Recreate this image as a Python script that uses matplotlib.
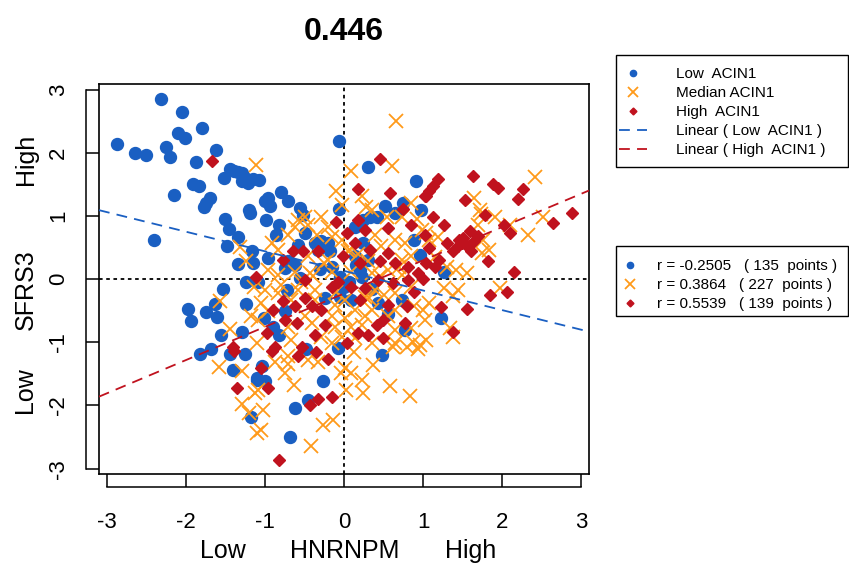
import numpy as np
import matplotlib
matplotlib.use('Agg')
from matplotlib import pyplot as plt
from matplotlib.lines import Line2D
from matplotlib.patches import Rectangle

plt.rcParams['font.family'] = ['Liberation Sans', 'DejaVu Sans']

# HNRNPM (x) vs SFRS3 (y), split by ACIN1 level
low_x = [-2.32, -2.05, -1.80, -2.10, -2.01, -2.88, -2.65, -2.51, -2.26, -2.20, -1.62, -1.88,
         -1.52, -1.40, -1.45, -1.29, -1.35, -1.22, -1.15, -1.92, -1.84, -2.15, -1.70, -1.75,
         -1.78, -1.20, -1.30, -1.25, -1.19, -1.51, -1.46, -1.34, -1.48, -1.17, -1.35, -1.16,
         -1.24, -1.54, -1.98, -1.64, -1.75, -1.61, -1.94, -1.24, -1.30, -1.56, -1.69, -2.41,
         -1.83, -1.44, -1.26, -1.41, -1.11, -1.18, -0.48, -0.08, 0.48, -1.04, -1.10, -1.00,
         -0.27, -0.46, -0.62, -0.69, -0.07, 0.30, 0.91, 0.52, 0.75, 0.97, -0.07, -1.08,
         -0.96, -0.80, -0.71, -0.94, -0.56, -1.00, -0.52, 1.22, 1.27, 0.96, -0.99, -0.83,
         -0.86, -0.50, 0.14, 0.24, 0.33, 0.41, 0.64, 0.89, -0.58, -0.37, -0.29, -0.20,
         -0.33, -0.18, -0.96, -0.71, -0.75, -0.62, -0.31, 0.14, 0.24, 0.20, 0.22, -0.05,
         -0.56, -0.73, -0.24, -0.05, 0.09, 0.43, 0.73, -1.02, -0.75, -0.90, -0.83, -1.09,
         0.00, 0.06, 0.30, 0.35, 0.15, -0.15, 0.56, 0.77]
low_y = [2.86, 2.64, 2.39, 2.31, 2.24, 2.14, 2.00, 1.97, 2.09, 1.94, 2.04, 1.85,
         1.60, 1.72, 1.74, 1.68, 1.69, 1.52, 1.58, 1.51, 1.47, 1.33, 1.29, 1.21,
         1.14, 1.09, 1.55, 1.60, 1.05, 0.95, 0.80, 0.66, 0.52, 0.45, 0.24, 0.26,
         -0.05, -0.16, -0.47, -0.39, -0.52, -0.60, -0.66, -0.40, -0.83, -0.89, -1.11, 0.62,
         -1.18, -1.18, -1.18, -1.44, -1.59, -2.18, -1.10, -1.09, -1.20, -1.38, -1.57, -1.62,
         -1.61, -1.91, -2.04, -2.50, 2.18, 1.77, 1.55, 1.16, 1.21, 1.10, 1.11, 1.57,
         1.29, 1.38, 1.23, 1.16, 1.13, 1.24, 1.02, -0.62, 0.12, 0.38, 0.94, 0.86,
         0.70, 0.73, 0.83, 0.94, 0.98, 0.99, 1.05, 0.62, 0.54, 0.57, 0.60, 0.57,
         0.46, 0.44, 0.33, 0.28, 0.17, 0.23, 0.16, 0.36, 0.57, 0.15, 0.04, 0.04,
         0.02, -0.17, -0.30, -0.28, -0.33, -0.38, -0.33, -0.62, -0.51, -0.75, -0.88, -0.04,
         -0.12, -0.05, 0.30, -0.15, 0.22, 0.20, -0.55, -0.81]

med_x = [-1.12, -1.32, -1.24, -1.14, -1.57, -1.18, -1.44, -1.59, -1.29, -1.29, -1.13, -1.11,
         -1.20, -0.88, -0.71, -0.46, -0.33, -0.75, -0.63, 0.01, -0.04, 0.09, 0.22, 0.02,
         0.24, 0.37, 0.58, 0.83, 0.62, 0.80, 0.94, -1.09, -1.03, -0.27, -0.14, -1.05,
         -0.42, 0.66, 0.61, 0.08, -0.11, 0.23, -0.03, 0.27, 0.85, 0.35, 2.41, 1.65,
         1.72, 2.52, 1.91, 1.73, 2.33, 1.70, 1.76, 1.74, 1.84, 1.97, 1.34, 1.44,
         1.38, 1.27, 1.42, 1.30, 1.08, 1.19, 1.04, 1.00, 1.08, 1.02, 1.04, 1.38,
         0.96, -0.50, -0.71, -0.62, -0.46, -0.20, -0.35, -0.16, -0.03, 0.54, 0.73, 0.39,
         0.64, 0.77, 0.47, -0.84, -0.46, -0.20, 0.07, 0.30, 0.73, 0.85, -0.96, -0.84,
         -0.62, -0.43, -0.16, 0.09, 0.35, 0.56, 0.73, -1.00, -0.84, -0.58, -0.37, -0.10,
         0.26, 0.39, 0.64, 0.85, -1.05, -0.67, -0.37, -0.12, 0.01, 0.14, 0.35, 0.64,
         0.89, -0.96, -0.50, -0.16, 0.01, 0.26, 0.56, -0.71, -0.41, -0.12, 0.09, 0.22,
         0.64, 0.85, -1.09, -0.29, -0.03, 0.14, 0.35, -0.67, -1.11, -0.16, 0.64, 0.87,
         -0.58, -0.92, -0.29, 0.98, -0.71, 0.12, 0.45, -0.25, 0.50, -0.55, 0.18, 0.70,
         -0.80, 0.05, 0.32, -0.40, 0.92, 1.15, 1.55, 2.10]
med_y = [1.81, 0.51, 0.29, -0.12, -0.34, -0.58, -0.79, -1.39, -1.45, -1.97, -1.81, -2.44,
         -2.12, -1.31, -1.34, -1.28, -1.31, -1.49, -1.68, -1.41, -1.49, -1.49, -1.60, -1.76,
         -1.81, -1.36, -1.69, -1.85, -1.07, -1.08, -1.10, -1.76, -2.07, -2.31, -2.23, -2.39,
         -2.64, 2.50, 1.79, 1.72, 1.39, 1.31, 1.18, 1.15, 1.21, 1.10, 1.62, 1.29,
         1.10, 0.99, 0.99, 1.03, 0.70, 0.86, 0.62, 0.41, 0.46, -0.14, -0.78, -0.17,
         -0.27, -0.14, 0.15, 0.20, 0.62, 0.67, 0.73, -0.49, -0.38, -0.64, -0.96, -0.91,
         -1.04, 0.99, 0.70, 0.83, 0.86, 0.83, 0.70, 0.67, 0.62, 0.99, 0.99, 0.70,
         0.62, 0.57, 0.52, 0.46, 0.36, 0.31, 0.46, 0.28, 0.31, 0.36, 0.15, 0.07,
         0.12, 0.09, 0.12, 0.12, 0.09, 0.15, 0.07, -0.17, -0.22, -0.17, -0.17, -0.20,
         -0.28, -0.17, -0.22, -0.12, -0.38, -0.33, -0.33, -0.41, -0.33, -0.49, -0.49, -0.49,
         -0.43, -0.51, -0.59, -0.59, -0.62, -0.59, -0.59, -0.75, -0.70, -0.75, -0.75, -0.72,
         -0.80, -0.78, -0.64, -0.91, -0.91, -0.93, -1.01, -0.96, -1.01, -1.01, -1.01, -0.99,
         0.94, 0.57, 0.99, 0.78, -1.22, -1.15, 0.05, 0.25, -0.25, -0.05, 0.40, 0.20,
         -0.10, 0.45, -0.30, 0.05, 0.95, 0.35, 0.10, 0.85]

high_x = [-1.67, -1.12, -1.41, -1.39, -1.36, -0.92, -0.36, -0.58, -0.20, -1.05, -0.96, -0.33,
          -0.15, -0.43, -0.83, 0.45, 0.17, 0.58, 0.75, 1.02, 1.63, 1.19, 1.13, 1.08,
          1.04, 1.89, 1.95, 2.27, 2.20, 1.53, 2.88, 2.65, 1.13, 1.27, 1.78, 1.59,
          2.02, 2.10, 1.51, 1.44, 1.38, 1.55, 1.61, 1.49, 1.82, 2.15, 1.85, 2.06,
          1.56, 1.23, 1.38, 1.15, 1.04, 1.02, 1.30, 1.08, -0.10, 0.18, 0.03, 0.26,
          0.56, 0.85, -0.65, -0.52, -0.33, 0.14, 0.33, 0.56, -0.01, -0.77, 0.20, 0.45,
          0.64, 0.81, 0.94, -0.50, -0.16, -0.08, 0.09, 0.26, 0.43, 0.62, 0.81, 0.89,
          -0.50, -0.41, -0.29, -0.77, -0.90, -0.62, -0.75, -0.60, -0.24, 0.20, 0.56, 0.79,
          0.41, 0.49, 0.77, -0.98, -0.37, 0.18, 0.30, 0.49, 0.03, -0.88, -0.54, 1.65,
          1.70, 1.45, 1.20, 1.00]
high_y = [1.87, 0.04, -1.07, -1.13, -1.72, -1.13, -1.16, -1.22, -1.26, -1.40, -1.73, -1.90,
          -1.87, -2.00, -2.86, 1.90, 1.42, 1.37, 1.11, 1.32, 1.64, 1.59, 1.47, 1.39,
          1.31, 1.50, 1.44, 1.43, 1.27, 1.26, 1.04, 0.89, 0.99, 0.86, 1.02, 0.77,
          0.86, 0.73, 0.65, 0.52, 0.44, 0.52, 0.44, 0.57, 0.29, 0.12, -0.25, -0.20,
          -0.47, -0.44, -0.84, 0.20, 0.25, 0.70, 0.57, 0.49, 0.91, 0.94, 0.73, 0.78,
          0.81, 0.86, 0.44, 0.44, 0.44, 0.57, 0.46, 0.41, 0.36, 0.31, 0.25, 0.28,
          0.25, 0.20, 0.09, -0.01, -0.12, -0.04, -0.12, -0.14, -0.01, -0.06, -0.01, -0.20,
          -0.30, -0.43, -0.49, -0.35, -0.49, -0.43, -0.64, -0.70, -0.72, -0.33, -0.41, -0.43,
          -0.72, -0.64, -0.70, -0.85, -0.88, -0.85, -0.88, -0.93, -1.01, -1.07, -1.07, 0.60,
          0.68, 0.62, 0.30, 0.00]

# fitted lines (slope, intercept)
low_fit = (-0.31, 0.13)
high_fit = (0.526, -0.227)

r_labels = ['r = -0.2505   ( 135  points )',
            'r = 0.3864   ( 227  points )',
            'r = 0.5539   ( 139  points )']

c_low = '#1a5fc2'
c_med = '#ff9a1a'
c_high = '#c0121e'
dash = (0, (6, 4))

fig = plt.figure(figsize=(8.49, 5.71), dpi=100)
ax = fig.add_axes([99/849, 1-474/571, 490/849, 390/571])

ax.axvline(0, color='k', lw=1.3, ls=(0, (2, 2)), zorder=1)
ax.axhline(0, color='k', lw=1.3, ls=(0, (2, 2)), zorder=1)

ax.plot(low_x, low_y, 'o', ms=8.6, color=c_low, mec=c_low, zorder=2)
ax.plot(med_x, med_y, 'x', ms=10, mew=1.3, color=c_med, zorder=3)
ax.plot(high_x, high_y, 'D', ms=6.3, color=c_high, mec=c_high, zorder=4)

ax.axline((0, low_fit[1]), slope=low_fit[0], color=c_low, lw=1.3, ls=dash, zorder=5)
ax.axline((0, high_fit[1]), slope=high_fit[0], color=c_high, lw=1.3, ls=dash, zorder=5)

ax.set_xlim(-3.105, 3.1)
ax.set_ylim(-3.085, 3.09)
ticks = [-3, -2, -1, 0, 1, 2, 3]
ax.set_xticks(ticks)
ax.set_yticks(ticks)
ax.set_xticklabels([str(t) for t in ticks])
ax.set_yticklabels([str(t) for t in ticks], rotation=90, va='center')
ax.tick_params(direction='out', length=9.5, width=1.1, labelsize=16)
ax.tick_params(axis='x', pad=18)
ax.tick_params(axis='y', pad=12)
for s in ax.spines.values():
    s.set_linewidth(1.2)

# axis lines beneath the tick marks, R style
off = 13/390
ax.plot([-3, 3], [-off, -off], color='k', lw=1.1, clip_on=False,
        transform=ax.get_xaxis_transform())
ax.plot([-off*390/490, -off*390/490], [-3, 3], color='k', lw=1.1, clip_on=False,
        transform=ax.get_yaxis_transform())

ax.set_title('0.446', fontsize=23, fontweight='bold', pad=32)

# axis labels with Low/High ends
ax.text(0, -0.197, 'HNRNPM', transform=ax.get_xaxis_transform(),
        ha='center', va='center', fontsize=18)
ax.text(-1.54, -0.197, 'Low', transform=ax.get_xaxis_transform(),
        ha='center', va='center', fontsize=18)
ax.text(1.6, -0.197, 'High', transform=ax.get_xaxis_transform(),
        ha='center', va='center', fontsize=18)
ax.text(-0.15, -0.17, 'SFRS3', transform=ax.get_yaxis_transform(),
        ha='center', va='center', fontsize=18, rotation=90)
ax.text(-0.15, 1.89, 'High', transform=ax.get_yaxis_transform(),
        ha='center', va='center', fontsize=18, rotation=90)
ax.text(-0.15, -1.75, 'Low', transform=ax.get_yaxis_transform(),
        ha='center', va='center', fontsize=18, rotation=90)

# legend boxes
fig.add_artist(Rectangle((616/849, 1-167/571), 232/849, 112/571, fill=False,
                         ec='k', lw=1.0, transform=fig.transFigure))
fig.add_artist(Rectangle((616/849, 1-316/571), 232/849, 70/571, fill=False,
                         ec='k', lw=1.0, transform=fig.transFigure))

h1 = [Line2D([], [], ls='none', marker='o', ms=4.5, color=c_low),
      Line2D([], [], ls='none', marker='x', ms=6.5, mew=1.3, color=c_med),
      Line2D([], [], ls='none', marker='D', ms=3.5, color=c_high),
      Line2D([], [], color=c_low, lw=1.3, ls=dash),
      Line2D([], [], color=c_high, lw=1.3, ls=dash)]
l1 = ['Low  ACIN1', 'Median ACIN1', 'High  ACIN1',
      'Linear ( Low  ACIN1 )', 'Linear ( High  ACIN1 )']
fig.legend(h1, l1, loc='upper left', bbox_to_anchor=(619/849, 1-67/571),
           fontsize=11, frameon=False, handlelength=1.8, handletextpad=1.9,
           labelspacing=0.33, borderpad=0, borderaxespad=0)

fig.legend(h1[:3], r_labels, loc='upper left', bbox_to_anchor=(622/849, 1-259/571),
           fontsize=11, frameon=False, handlelength=1.05, handletextpad=1.24,
           labelspacing=0.33, borderpad=0, borderaxespad=0)

fig.savefig('out.png', dpi=100)
